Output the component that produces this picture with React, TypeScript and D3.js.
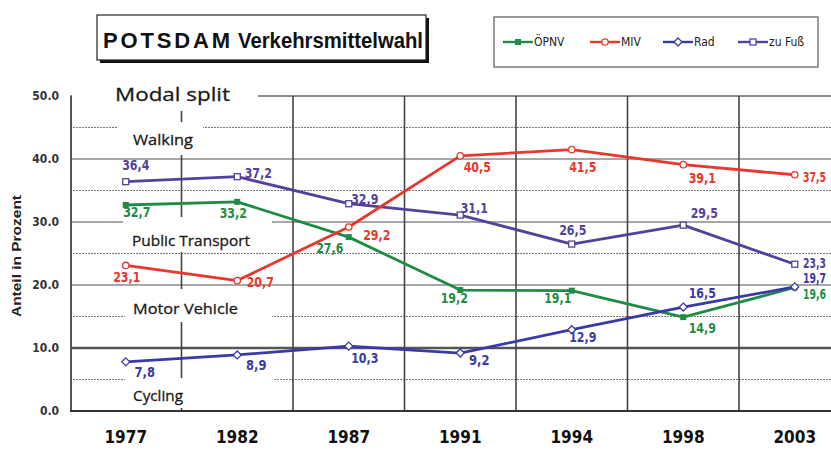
import React from "react";
import * as d3 from "d3";

// years and modal split shares (Anteil in Prozent)
const years = ["1977", "1982", "1987", "1991", "1994", "1998", "2003"];
const oepnv = [32.7, 33.2, 27.6, 19.2, 19.1, 14.9, 19.6];
const miv = [23.1, 20.7, 29.2, 40.5, 41.5, 39.1, 37.5];
const rad = [7.8, 8.9, 10.3, 9.2, 12.9, 16.5, 19.7];
const zuFuss = [36.4, 37.2, 32.9, 31.1, 26.5, 29.5, 23.3];
const yTicks = [0, 10, 20, 30, 40, 50];
const seriesNames = ["ÖPNV", "MIV", "Rad", "zu Fuß"];
const annotations = ["Modal split", "Walking", "Public Transport", "Motor Vehicle", "Cycling"];

const W = 831,
  H = 451;

const narrow = "'Liberation Sans Narrow', 'DejaVu Sans Condensed', 'Arial Narrow', sans-serif";

export default function App() {
  const x = d3.scaleBand().domain(years).range([70, 70 + 7 * 111.5]);
  const y = d3.scaleLinear().domain([0, 50]).range([411, 96]);
  const cx = (d: string) => (x(d) as number) + x.bandwidth() / 2;

  const line = (vals: number[]) =>
    d3
      .line<number>()
      .x((_, i) => cx(years[i]))
      .y((v) => y(v))(vals) as string;

  const fmt = (v: number) => v.toFixed(1).replace(".", ",");

  // label offsets per point (dx, dy) relative to the marker
  const series = [
    {
      name: seriesNames[3], vals: zuFuss, color: "#55409c", marker: "square",
      off: [[10, -17], [21, -4], [16, -5], [14, -7], [1, -14], [21, -12], [23, -1]],
    },
    {
      name: seriesNames[0], vals: oepnv, color: "#1f8c46", marker: "filled",
      off: [[11, 7], [-4, 11], [-19, 11], [-6, 8], [-14, 7], [19, 11], [23, 6]],
    },
    {
      name: seriesNames[1], vals: miv, color: "#e8372c", marker: "circle",
      off: [[1, 12], [23, 1], [28, 8], [17, 11], [11, 17], [19, 13], [22, 2]],
    },
    {
      name: seriesNames[2], vals: rad, color: "#3a3aa6", marker: "diamond",
      off: [[19, 10], [19, 10], [16, 12], [19, 7], [11, 7], [19, -14], [23, -9]],
    },
  ];

  const marker = (kind: string, px: number, py: number, color: string, key: string) => {
    if (kind === "filled")
      return <rect key={key} x={px - 3} y={py - 3} width={6} height={6} fill={color} />;
    if (kind === "circle")
      return <circle key={key} cx={px} cy={py} r={3.2} fill="#fff" stroke={color} strokeWidth={1.3} />;
    if (kind === "diamond")
      return (
        <path key={key} d={`M${px},${py - 4}L${px + 4},${py}L${px},${py + 4}L${px - 4},${py}Z`} fill="#fff" stroke={color} strokeWidth={1.3} />
      );
    return <rect key={key} x={px - 3} y={py - 3} width={6} height={6} fill="#fff" stroke={color} strokeWidth={1.3} />;
  };

  // boxes for the english annotations: [x, y, w, h, textX, textY, size, textLength]
  const annBoxes = [
    [72, 78, 186, 33, 115, 94, 19, 115],
    [117, 122, 86, 33, 133, 139, 15, 60],
    [123, 217, 149, 35, 132, 240, 15, 118],
    [125, 289, 147, 33, 133, 308, 15, 105],
    [125, 378, 148, 30, 133, 395, 15, 50],
  ];

  const gridSolid = [10, 20, 30, 40];
  const gridDotted = [5, 15, 25, 35, 45];

  const legendX = [503, 590, 663, 738];
  const legendOrder = [1, 2, 3, 0]; // ÖPNV, MIV, Rad, zu Fuß -> series index

  return (
    <svg width={W} height={H} style={{ position: "absolute", left: 0, top: 0, background: "#fff" }}>
      <rect width={W} height={H} fill="#fff" />

      {/* grid */}
      {gridDotted.map((t) => (
        <line key={"d" + t} x1={70} x2={W} y1={y(t)} y2={y(t)} stroke="#777" strokeWidth={1.2} strokeDasharray="2,1" />
      ))}
      {gridSolid.map((t) => (
        <line key={"s" + t} x1={70} x2={W} y1={y(t)} y2={y(t)} stroke={t === 10 ? "#555" : "#8a8a8a"} strokeWidth={t === 10 ? 2.4 : 1.6} />
      ))}
      <line x1={70} x2={W} y1={y(50)} y2={y(50)} stroke="#666" strokeWidth={1.5} />
      {years.slice(1).map((yr) => (
        <line key={"v" + yr} x1={x(yr)} x2={x(yr)} y1={y(50)} y2={y(0)} stroke="#444" strokeWidth={1.6} />
      ))}
      <line x1={71} x2={71} y1={y(50)} y2={y(0)} stroke="#555" strokeWidth={2} />
      <line x1={70} x2={W} y1={y(0)} y2={y(0)} stroke="#333" strokeWidth={2} />

      {/* annotation boxes */}
      {annBoxes.map((b, i) => (
        <g key={"a" + i}>
          <rect x={b[0]} y={b[1]} width={b[2]} height={b[3]} fill="#fff" />
          <text
            x={b[4]}
            y={b[5]}
            fontFamily="'Open Sans', sans-serif"
            fontSize={b[6]}
            fill="#1a1a1a"
            stroke="#1a1a1a"
            strokeWidth={0.3}
            dominantBaseline="central"
            textLength={b[7]}
            lengthAdjust="spacingAndGlyphs"
          >
            {annotations[i]}
          </text>
        </g>
      ))}

      {/* y axis */}
      {yTicks.map((t) => (
        <text key={"y" + t} x={59} y={y(t)} textAnchor="end" dominantBaseline="central" fontFamily={narrow} fontWeight="bold" fontSize={12} fill="#333">
          {t.toFixed(1)}
        </text>
      ))}
      <text
        transform="translate(21,256) rotate(-90)"
        textAnchor="middle"
        fontFamily="'Liberation Sans', Arial, sans-serif"
        fontWeight="bold"
        fontSize={12.5}
        fill="#222"
        textLength={122}
        lengthAdjust="spacingAndGlyphs"
      >
        Anteil in Prozent
      </text>

      {/* x axis labels */}
      {years.map((yr) => (
        <text key={"x" + yr} x={cx(yr)} y={443} textAnchor="middle" fontFamily={narrow} fontWeight="bold" fontSize={17} fill="#111">
          {yr}
        </text>
      ))}

      {/* series */}
      {series.map((s) => (
        <g key={s.name}>
          <path d={line(s.vals)} fill="none" stroke={s.color} strokeWidth={2.8} strokeLinejoin="round" />
          {s.vals.map((v, i) => marker(s.marker, cx(years[i]), y(v), s.color, s.name + i))}
          {s.vals.map((v, i) => {
            const last = i === s.vals.length - 1;
            const txt = fmt(v);
            return (
              <text
                key={s.name + "l" + i}
                x={last ? 803 : cx(years[i]) + s.off[i][0]}
                y={y(v) + s.off[i][1]}
                textAnchor={last ? "start" : "middle"}
                dominantBaseline="central"
                fontFamily={narrow}
                fontWeight="bold"
                fontSize={14}
                fill={s.color}
                textLength={last ? 23 : txt.length * 6.8}
                lengthAdjust="spacingAndGlyphs"
              >
                {txt}
              </text>
            );
          })}
        </g>
      ))}

      {/* title box */}
      <rect x={100} y={18} width={329} height={45} fill="#111" />
      <rect x={97} y={15} width={329} height={45} fill="#fff" stroke="#222" strokeWidth={1.2} />
      <text x={103} y={48} fontFamily="'Liberation Sans', Arial, sans-serif" fontWeight="bold" fontSize={22} fill="#111" textLength={127} lengthAdjust="spacing">
        POTSDAM
      </text>
      <text x={238} y={48} fontFamily="'Liberation Sans', Arial, sans-serif" fontWeight="bold" fontSize={22} fill="#111" textLength={185} lengthAdjust="spacingAndGlyphs">
        Verkehrsmittelwahl
      </text>

      {/* legend */}
      <rect x={494} y={17} width={324} height={50} fill="#fff" stroke="#666" strokeWidth={1.3} />
      {legendOrder.map((si, i) => {
        const s = series[si];
        const lx = legendX[i];
        return (
          <g key={"lg" + i}>
            <line x1={lx} x2={lx + 30} y1={42} y2={42} stroke={s.color} strokeWidth={2.4} />
            {marker(s.marker, lx + 15, 42, s.color, "lm" + i)}
            <text x={lx + 31} y={42} dominantBaseline="central" fontFamily={narrow} fontSize={12} fill="#222">
              {s.name}
            </text>
          </g>
        );
      })}
    </svg>
  );
}
